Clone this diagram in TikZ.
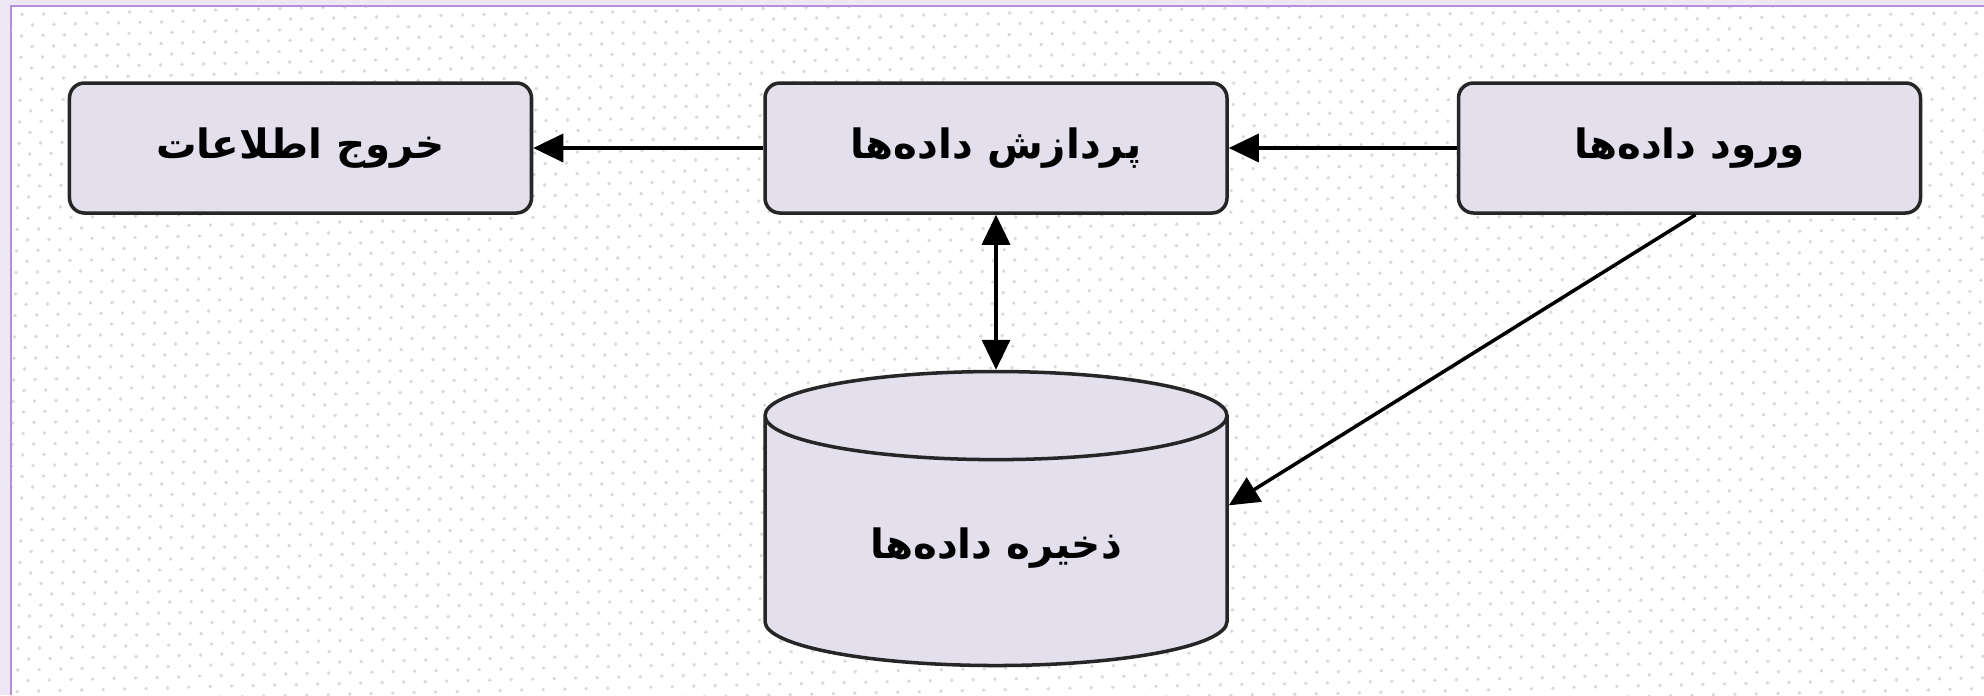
\documentclass[tikz,border=0pt]{standalone}
\usepackage{fontspec}
\newfontfamily\farsi[Script=Arabic]{DejaVu Sans}
\TeXXeTstate=1
\usetikzlibrary{positioning,shapes.geometric,arrows.meta,patterns.meta}
\definecolor{boxfill}{RGB}{227,223,236}
\definecolor{frameline}{RGB}{182,142,222}
\definecolor{framefill}{RGB}{238,232,246}
\newcommand{\fatext}[1]{\farsi\bfseries\beginR #1\endR}

\begin{document}
\begin{tikzpicture}[>={Triangle[length=0.3cm,width=0.28cm]},
	block/.style={draw=black!85,line width=1pt,fill=boxfill,rounded corners=0.15cm,
		minimum width=4.62cm,minimum height=1.3cm,font=\fontsize{11.5}{14}\selectfont},
	link/.style={line width=1pt}]
	\useasboundingbox (0,0) rectangle (19.84,-6.95);
	\fill[framefill] (0,0) rectangle (19.84,-6.95);
	\fill[white] (0.11,-0.06) rectangle (19.84,-6.95);
	\fill[pattern={Dots[radius=0.5pt,distance=0.156cm,angle=45]},pattern color=black!15]
		(0.11,-0.06) rectangle (19.84,-6.95);
	\draw[frameline,line width=0.8pt] (0.11,-6.95) -- (0.11,-0.06) -- (19.84,-0.06);
	\node[block] (proc) at (9.96,-1.48) {\fatext{پردازش داده‌ها}};
	\node[block,left=2.3cm of proc] (out) {\fatext{خروج اطلاعات}};
	\node[block,right=2.28cm of proc] (in) {\fatext{ورود داده‌ها}};
	\node[cylinder,shape border rotate=90,aspect=0.32,draw=black!85,line width=1pt,fill=boxfill,
		minimum width=4.62cm,minimum height=2.94cm,font=\fontsize{11.5}{14}\selectfont,
		below=1.55cm of proc] (store) {\fatext{ذخیره داده‌ها}};
	\draw[link,->] (proc) -- (out);
	\draw[link,->] (in) -- (proc);
	\draw[link,<->] (proc) -- (store);
	\draw[link,->] ([xshift=0.06cm]in.south) -- ([yshift=0.43cm]store.east);
\end{tikzpicture}
\end{document}
